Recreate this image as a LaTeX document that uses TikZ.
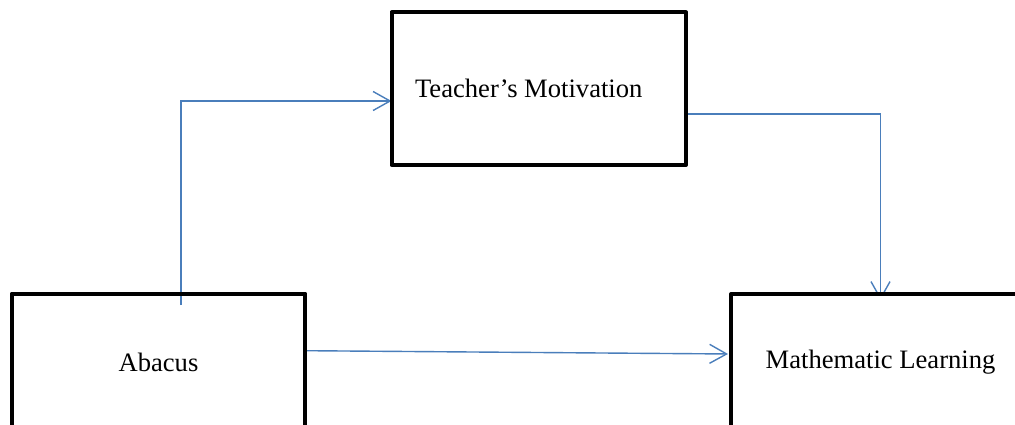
\documentclass[tikz,border=0pt]{standalone}
\usepackage{fontspec}
\setmainfont{Liberation Serif}
\usetikzlibrary{arrows.meta}
\pgfdeclarelayer{bg}
\pgfsetlayers{bg,main}
\definecolor{conncol}{RGB}{74,126,187}
\begin{document}
\begin{tikzpicture}[x=1pt,y=-1pt,
  box/.style={draw=black, line width=4pt, line join=round, rectangle, inner sep=0pt, outer sep=0pt, font=\fontsize{26.6}{30}\selectfont},
  conn/.style={draw=conncol, line width=1.4pt, -{Straight Barb[length=17pt,width=19pt]}}]
\useasboundingbox (0,0) rectangle (1015,425);
\clip (0,0) rectangle (1015,425);
\node[box, minimum width=294.5pt, minimum height=152.5pt] (tm) at (538.75,88.75) {\hspace*{-20pt}Teacher’s Motivation};
\node[box, minimum width=293.5pt, minimum height=137pt] (ab) at (158.5,362) {Abacus};
\node[box, fill=white, minimum width=299pt, minimum height=136pt] (ml) at (880.5,362) {Mathematic Learning};
\coordinate (s1) at (181,305);
\begin{pgfonlayer}{bg}
\draw[conn] (s1) |- ([yshift=-12.25pt]tm.west);
\draw[conn, shorten >=-6pt] ([yshift=-25.25pt]tm.east) -| (ml.north);
\draw[conn, shorten >=3pt] ([yshift=11.3pt]ab.east) -- ([yshift=8pt]ml.west);
\end{pgfonlayer}
\end{tikzpicture}
\end{document}
